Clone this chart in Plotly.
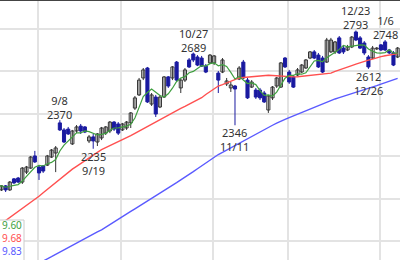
import plotly.graph_objects as go
import pandas as pd

# ---- trading days (Tokyo market, Aug 18 2025 .. Jan 9 2026) ----
holidays = ["2025-09-15", "2025-09-23", "2025-10-13", "2025-11-03", "2025-11-24",
            "2025-12-31", "2026-01-01", "2026-01-02"]
dates = [d for d in pd.bdate_range("2025-08-18", "2026-01-09")
         if d.strftime("%Y-%m-%d") not in holidays]

opens = [2041, 2041, 2060, 2041, 2093, 2097, 2078, 2125, 2144, 2201, 2149, 2154, 2158, 2196, 2215,
         2357, 2324, 2328, 2258, 2319, 2342, 2338, 2272, 2291, 2267, 2286, 2309, 2319, 2361, 2352,
         2324, 2333, 2357, 2427, 2489, 2569, 2616, 2446, 2479, 2432, 2479, 2574, 2569, 2644, 2522,
         2559, 2654, 2682, 2668, 2663, 2625, 2640, 2640, 2592, 2597, 2541, 2522, 2531, 2564, 2644,
         2559, 2526, 2512, 2512, 2498, 2418, 2475, 2531, 2526, 2663, 2597, 2574, 2583, 2597, 2616,
         2663, 2692, 2677, 2663, 2644, 2692, 2692, 2758, 2710, 2701, 2715, 2786, 2758, 2734, 2668,
         2663, 2706, 2725, 2739, 2701, 2687, 2668]
highs = [2069, 2064, 2064, 2083, 2097, 2102, 2149, 2154, 2201, 2225, 2154, 2158, 2206, 2234, 2248,
         2370, 2333, 2338, 2324, 2347, 2352, 2342, 2300, 2305, 2309, 2338, 2342, 2366, 2366, 2361,
         2357, 2366, 2408, 2484, 2569, 2616, 2621, 2498, 2489, 2489, 2578, 2578, 2625, 2649, 2569,
         2616, 2663, 2689, 2677, 2673, 2635, 2682, 2677, 2602, 2663, 2569, 2550, 2536, 2625, 2654,
         2569, 2559, 2522, 2522, 2508, 2489, 2531, 2574, 2644, 2668, 2607, 2583, 2616, 2635, 2658,
         2696, 2701, 2687, 2673, 2758, 2758, 2743, 2767, 2720, 2725, 2767, 2793, 2767, 2743, 2677,
         2720, 2715, 2729, 2748, 2706, 2696, 2715]
lows = [2031, 2036, 2031, 2036, 2069, 2074, 2069, 2116, 2140, 2168, 2088, 2121, 2154, 2192, 2125,
        2319, 2262, 2300, 2253, 2309, 2305, 2309, 2262, 2235, 2248, 2276, 2300, 2309, 2319, 2300,
        2319, 2324, 2333, 2418, 2484, 2559, 2451, 2437, 2385, 2427, 2475, 2522, 2559, 2550, 2498,
        2550, 2616, 2644, 2625, 2621, 2592, 2635, 2630, 2498, 2592, 2531, 2503, 2346, 2559, 2564,
        2470, 2522, 2470, 2465, 2451, 2404, 2465, 2522, 2522, 2616, 2541, 2522, 2578, 2592, 2612,
        2658, 2658, 2616, 2592, 2640, 2687, 2682, 2682, 2682, 2696, 2710, 2743, 2706, 2677, 2612,
        2658, 2701, 2696, 2696, 2682, 2625, 2663]
closes = [2060, 2060, 2041, 2078, 2074, 2078, 2144, 2149, 2196, 2173, 2121, 2130, 2201, 2229, 2239,
          2324, 2267, 2305, 2319, 2338, 2319, 2314, 2291, 2272, 2305, 2333, 2338, 2361, 2328, 2309,
          2352, 2361, 2404, 2475, 2559, 2607, 2456, 2489, 2399, 2479, 2574, 2531, 2621, 2559, 2559,
          2607, 2621, 2654, 2630, 2625, 2597, 2677, 2673, 2559, 2654, 2555, 2536, 2517, 2616, 2569,
          2475, 2550, 2479, 2475, 2456, 2484, 2526, 2569, 2640, 2621, 2550, 2526, 2607, 2630, 2654,
          2692, 2663, 2621, 2597, 2748, 2748, 2739, 2687, 2692, 2715, 2762, 2748, 2710, 2687, 2621,
          2710, 2710, 2701, 2701, 2687, 2630, 2710]

ma25 = [1868, 1882, 1896, 1910, 1925, 1940, 1954, 1968, 1983, 1997, 2011, 2028, 2044, 2060, 2077,
        2093, 2110, 2126, 2139, 2152, 2166, 2179, 2192, 2205, 2218, 2231, 2240, 2250, 2259, 2268,
        2278, 2287, 2297, 2308, 2319, 2331, 2342, 2353, 2364, 2375, 2386, 2396, 2407, 2417, 2426,
        2435, 2445, 2454, 2464, 2476, 2491, 2505, 2519, 2531, 2538, 2546, 2554, 2561, 2569, 2571,
        2573, 2575, 2577, 2580, 2582, 2582, 2581, 2579, 2578, 2576, 2575, 2574, 2575, 2577, 2579,
        2581, 2584, 2586, 2588, 2590, 2592, 2600, 2606, 2613, 2620, 2627, 2634, 2641, 2647, 2653,
        2658, 2665, 2670, 2674, 2677, 2681, 2684]
ma75 = [1588, 1599, 1609, 1620, 1631, 1642, 1652, 1662, 1673, 1684, 1694, 1705, 1716, 1726, 1737,
        1748, 1758, 1769, 1779, 1790, 1800, 1811, 1822, 1833, 1843, 1853, 1866, 1878, 1891, 1902,
        1915, 1927, 1940, 1952, 1964, 1976, 1989, 2001, 2013, 2026, 2039, 2050, 2063, 2075, 2088,
        2100, 2114, 2127, 2141, 2155, 2168, 2183, 2196, 2208, 2218, 2229, 2240, 2251, 2262, 2273,
        2284, 2294, 2305, 2315, 2325, 2335, 2346, 2356, 2366, 2374, 2382, 2390, 2399, 2407, 2415,
        2423, 2432, 2440, 2448, 2456, 2465, 2470, 2476, 2482, 2488, 2495, 2500, 2507, 2513, 2519,
        2526, 2533, 2540, 2547, 2554, 2560, 2567]

# labelled extremes: (date label, value, kind)
marks = [("9/8", 2370, "high"), ("9/19", 2235, "low"), ("10/27", 2689, "high"),
         ("11/11", 2346, "low"), ("12/23", 2793, "high"), ("12/26", 2612, "low"),
         ("1/6", 2748, "high")]

legend_vals = ["9.60", "9.68", "9.83"]

GREEN = "#3f9f3f"
RED = "#ff5050"
BLUE = "#5a5aff"
UPLINE = "#333333"
DOWN = "#1a1aa0"

n = len(closes)
xs = list(range(n))
ma5 = pd.Series(closes).rolling(5, min_periods=1).mean().tolist()

up = [i for i in xs if closes[i] >= opens[i]]
dn = [i for i in xs if closes[i] < opens[i]]


def wicks(idx):
    wx, wy = [], []
    for i in idx:
        wx += [i, i, None]
        wy += [lows[i], highs[i], None]
    return wx, wy


fig = go.Figure()
wx, wy = wicks(up)
fig.add_trace(go.Scatter(x=wx, y=wy, mode="lines", line=dict(color=UPLINE, width=1), hoverinfo="skip"))
wx, wy = wicks(dn)
fig.add_trace(go.Scatter(x=wx, y=wy, mode="lines", line=dict(color=DOWN, width=1), hoverinfo="skip"))
fig.add_trace(go.Bar(x=up, base=[min(opens[i], closes[i]) for i in up],
                     y=[max(abs(closes[i] - opens[i]), 3) for i in up], width=0.74,
                     marker=dict(color="white", line=dict(color=UPLINE, width=1))))
fig.add_trace(go.Bar(x=dn, base=[min(opens[i], closes[i]) for i in dn],
                     y=[max(abs(closes[i] - opens[i]), 3) for i in dn], width=0.74,
                     marker=dict(color=DOWN, line=dict(color=DOWN, width=1))))
fig.add_trace(go.Scatter(x=xs, y=ma75, mode="lines", line=dict(color=BLUE, width=1.4)))
fig.add_trace(go.Scatter(x=xs, y=ma25, mode="lines", line=dict(color=RED, width=1.4)))
fig.add_trace(go.Scatter(x=xs, y=ma5, mode="lines", line=dict(color=GREEN, width=1.2)))

labels = [d.strftime("%-m/%-d") for d in dates]
annotations = []
for lab, val, kind in marks:
    i = labels.index(lab)
    if kind == "high":
        txt, yanchor, shift = f"{lab}<br>{val}", "bottom", -4
    else:
        txt, yanchor, shift = f"{val}<br>{lab}", "top", 2
    annotations.append(dict(x=i, y=val, xref="x", yref="y", text=txt, showarrow=False,
                            xanchor="center", yanchor=yanchor, yshift=shift,
                            font=dict(family="Noto Sans", size=11, color="#333333")))

legend_text = "<br>".join(f'<span style="color:{c}">{t}</span>'
                          for t, c in zip(legend_vals, [GREEN, RED, BLUE]))
annotations.append(dict(x=23.5 / 400, y=0, xref="paper", yref="paper", text=legend_text,
                        showarrow=False, xanchor="right", yanchor="bottom", align="right",
                        font=dict(family="Noto Sans", size=10, color=GREEN)))

month_ticks = [i - 0.25 for i in range(1, n) if dates[i].month != dates[i - 1].month]

fig.update_layout(
    width=400, height=260, margin=dict(l=0, r=0, t=0, b=0),
    plot_bgcolor="white", paper_bgcolor="white", showlegend=False, barmode="overlay",
    xaxis=dict(range=[0.647, 96.57], tickvals=month_ticks, showticklabels=False, ticks="",
               showgrid=True, gridcolor="#e3e3e3", gridwidth=2, zeroline=False, showline=False),
    yaxis=dict(range=[1710.4, 2936.8], tickvals=list(range(1800, 3000, 200)), showticklabels=False,
               ticks="", showgrid=True, gridcolor="#e3e3e3", gridwidth=2, zeroline=False, showline=False),
    annotations=annotations,
    shapes=[
        dict(type="line", xref="paper", yref="paper", x0=0, x1=1, y0=1, y1=1,
             line=dict(color="#444444", width=2)),
        dict(type="rect", xref="paper", yref="paper", x0=-0.01, x1=24 / 400, y0=-0.01, y1=1 - 220 / 260,
             fillcolor="white", line=dict(color="#cccccc", width=1)),
    ],
)

fig.write_html("out.html")
